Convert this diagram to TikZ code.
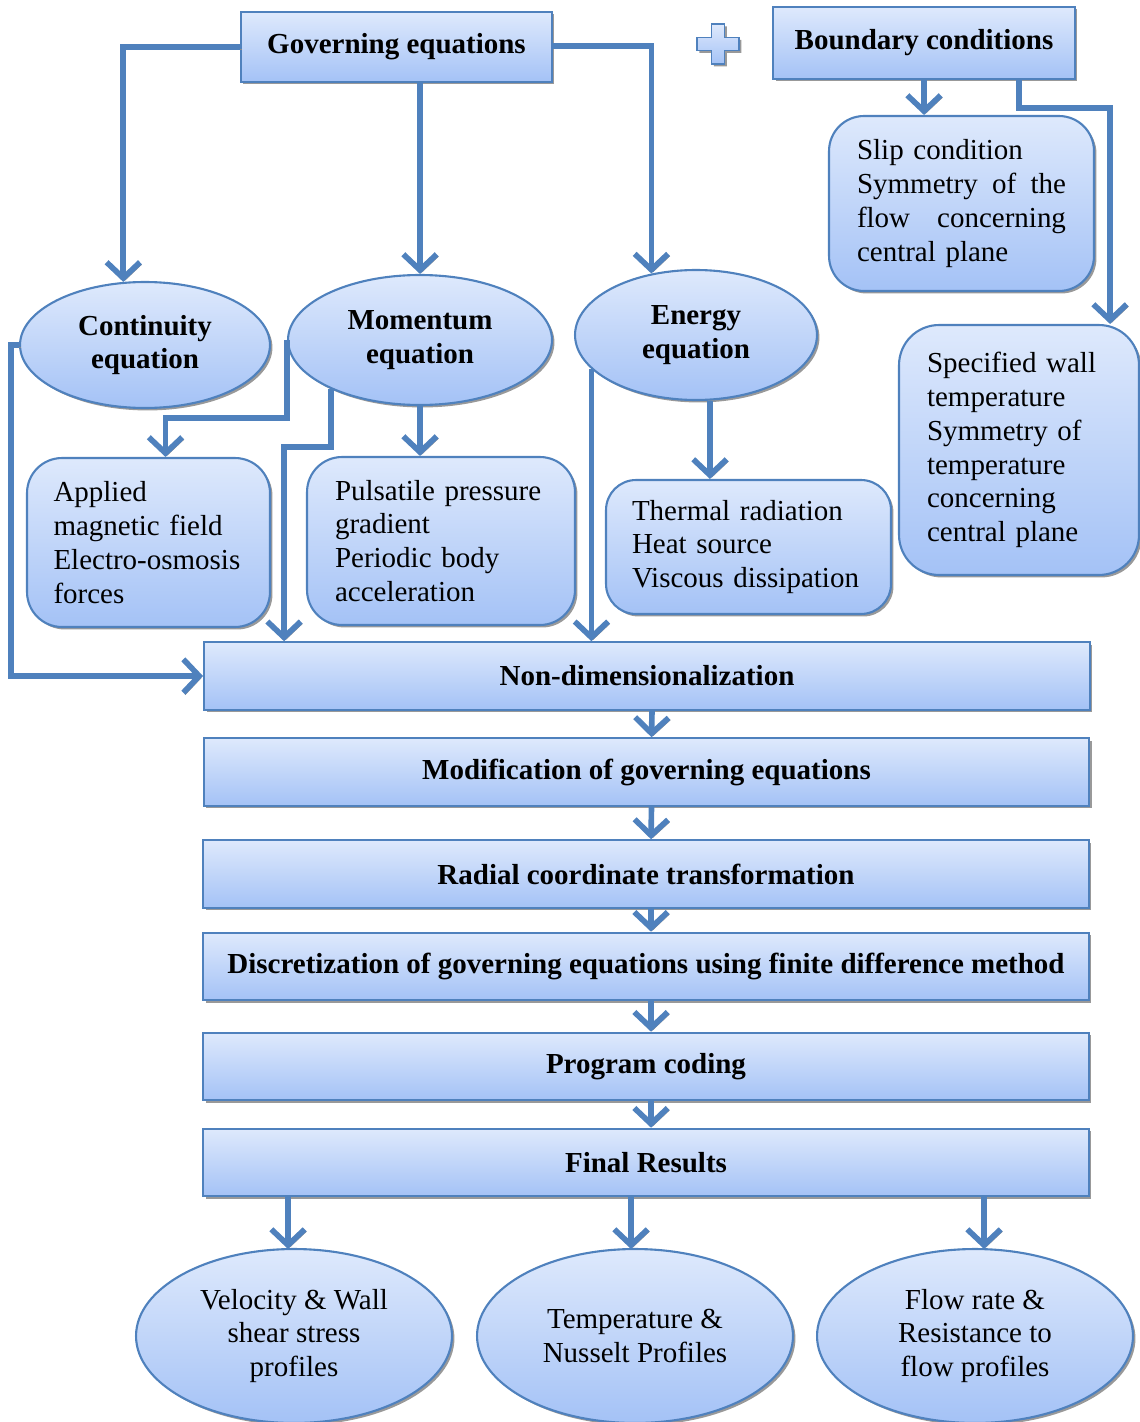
\documentclass[tikz,border=0pt]{standalone}
\usepackage{fontspec}
\setmainfont{Liberation Serif}
\usetikzlibrary{positioning,calc,shapes.geometric,shadows,arrows.meta}
\definecolor{lineblue}{HTML}{4F81BD}
\definecolor{filltop}{HTML}{DEE9FC}
\definecolor{fillbot}{HTML}{A4C2F6}
\newcommand{\flowfont}{\fontsize{16.5pt}{19.3pt}\selectfont}
\newcommand{\spreadline}[1]{\leavevmode\hbox to\hsize{#1}}
\tikzset{
  base/.style={draw=lineblue, line width=1.2pt, top color=filltop, bottom color=fillbot,
    drop shadow={shadow xshift=1.4pt, shadow yshift=-1.4pt, fill=black!50, opacity=0.8}},
  headbox/.style={base, rectangle, font=\flowfont\bfseries, inner sep=0pt},
  stepbox/.style={headbox, minimum width=17.72cm, minimum height=1.35cm},
  infobox/.style={base, rectangle, rounded corners=0.7cm, align=left, font=\flowfont, inner sep=0pt},
  oval/.style={base, ellipse, inner sep=0pt, align=center, font=\flowfont\bfseries},
  result/.style={oval, font=\flowfont, minimum width=6.32cm, minimum height=3.48cm},
  flowline/.style={draw=lineblue, line width=3.2pt, -{Straight Barb[length=9pt,width=19pt]},
    preaction={draw=black!45, transform canvas={xshift=1pt, yshift=-1.2pt}}}
}
\begin{document}
\begin{tikzpicture}[x=0.02cm, y=-0.02cm]
  \useasboundingbox (0,0) rectangle (1139,1422);
  \node[headbox, minimum width=6.22cm, minimum height=1.4cm] (gov) at (396.5,47) {Governing equations};
  \node[headbox, minimum width=6.04cm, minimum height=1.44cm] (bc) at (924,43) {Boundary conditions};
  \draw[base, line width=1pt] (711.5,24) -- (724.5,24) -- (724.5,37.5) -- (739,37.5) -- (739,50.5) -- (724.5,50.5)
    -- (724.5,64) -- (711.5,64) -- (711.5,50.5) -- (697,50.5) -- (697,37.5) -- (711.5,37.5) -- cycle;
  \node[infobox, minimum width=5.3cm, minimum height=3.5cm, text width=4.18cm] (slip) at (961.5,203.5)
    {Slip condition\\ \spreadline{Symmetry\hfil of\hfil the}\\ \spreadline{flow\hfil concerning}\\ central plane};
  \node[infobox, minimum width=4.8cm, minimum height=5cm, text width=3.68cm, rounded corners=0.8cm] (spec) at (1019,450)
    {Specified wall\\ temperature\\ Symmetry of\\ temperature\\ concerning\\ central plane};
  \node[oval, minimum width=5cm, minimum height=2.52cm] (cont) at (145,345) {Continuity\\ equation};
  \node[oval, minimum width=5.28cm, minimum height=2.6cm] (mom) at (420,340) {Momentum\\ equation};
  \node[oval, minimum width=4.84cm, minimum height=2.6cm] (energy) at (696,335) {Energy\\ equation};
  \node[infobox, minimum width=4.86cm, minimum height=3.38cm, text width=3.8cm] (applied) at (148.5,542.5)
    {Applied\\ magnetic field\\ Electro-osmosis\\ forces};
  \node[infobox, minimum width=5.36cm, minimum height=3.36cm, text width=4.24cm] (pul) at (441,541)
    {Pulsatile pressure\\ gradient\\ Periodic body\\ acceleration};
  \node[infobox, minimum width=5.7cm, minimum height=2.68cm, text width=4.66cm, rounded corners=0.6cm] (therm) at (748.5,547)
    {Thermal radiation\\ Heat source\\ Viscous dissipation};
  \node[stepbox] (nondim) at (647,676) {Non-dimensionalization};
  \node[stepbox] (modif) at (646.5,772) {Modification of governing equations};
  \node[stepbox] (radial) at (646,874) {Radial coordinate transformation};
  \node[stepbox] (discret) at (646,966.5) {Discretization of governing equations using finite difference method};
  \node[stepbox] (program) at (646,1066.5) {Program coding};
  \node[stepbox] (final) at (646,1162.5) {Final Results};
  \node[result] (vel) at (294,1336) {Velocity \& Wall\\ shear stress\\ profiles};
  \node[result] (temp) at (635,1336) {Temperature \&\\ Nusselt Profiles};
  \node[result] (flow) at (975,1336) {Flow rate \&\\ Resistance to\\ flow profiles};
  \draw[flowline] (gov.west) -| (cont.109);
  \draw[flowline] (mom.north |- gov.south) -- (mom.north);
  \draw[flowline] ($(gov.east)+(0,-1)$) -| (energy.126);
  \draw[flowline] (bc.south) -- (bc.south |- slip.north);
  \draw[flowline] ($(bc.south east)+(-57,0)$) -- ++(0,28) -| ($(spec.north east)+(-30,0)$);
  \draw[flowline] (cont.west) -- ++(-8,0) |- (nondim.west);
  \draw[flowline] (mom.west) -- ++(0,78) -| ($(applied.north)+(17,0)$);
  \draw[flowline] (mom.209) -- ++(0,58) -| ($(nondim.north west)+(81,0)$);
  \draw[flowline] (mom.south) -- (mom.south |- pul.north);
  \draw[flowline] (energy.198) -- (energy.198 |- nondim.north);
  \draw[flowline] (energy.282) -- (energy.282 |- therm.north);
  \foreach \a/\b in {nondim/modif, modif/radial, radial/discret, discret/program, program/final}
    \draw[flowline] ($(\a.south)+(5,0)$) -- ($(\b.north)+(5,0)$);
  \foreach \r/\dx in {vel/-6, temp/-4, flow/9}
    \draw[flowline] ($(final.south -| \r.north)+(\dx,0)$) -- ($(\r.north)+(\dx,1)$);
\end{tikzpicture}
\end{document}
